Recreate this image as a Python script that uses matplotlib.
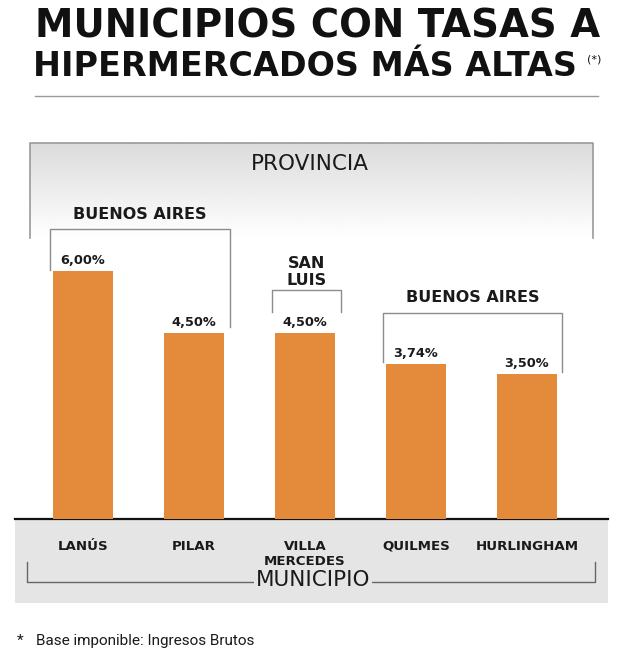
import matplotlib
matplotlib.use("Agg")
import matplotlib.pyplot as plt
import numpy as np
from matplotlib.patches import Rectangle

# ---------------------------------------------------------------------------
# Datos
# ---------------------------------------------------------------------------
municipios = ["LANÚS", "PILAR", "VILLA\nMERCEDES", "QUILMES", "HURLINGHAM"]
tasas = [6.00, 4.50, 4.50, 3.74, 3.50]
provincias = ["BUENOS AIRES", "SAN\nLUIS", "BUENOS AIRES"]
grupos = [(0, 1), (2, 2), (3, 4)]   # barras que abarca cada provincia

# ---------------------------------------------------------------------------
# Estilo
# ---------------------------------------------------------------------------
W, H = 624, 655
NARANJA = "#e38b3b"
GRIS_LINEA = "#8c8c8c"
GRIS_FONDO = "#e5e5e5"
TEXTO = "#1a1a1a"
FONT = "DejaVu Sans"


def caja(x0, y0, x1, y1):
    """Pixeles (origen arriba a la izquierda) -> rect de figura."""
    return [x0 / W, 1 - y1 / H, (x1 - x0) / W, (y1 - y0) / H]


fig = plt.figure(figsize=(W / 100, H / 100), dpi=100)

# capa de decoracion en pixeles
deco = fig.add_axes([0, 0, 1, 1], zorder=0)
deco.set_xlim(0, W)
deco.set_ylim(H, 0)
deco.axis("off")

# titulo
deco.text(318, 26, "MUNICIPIOS CON TASAS A", ha="center", va="center",
          fontsize=27.8, fontweight="bold", color="#111", family=FONT)
deco.text(305, 67, "HIPERMERCADOS MÁS ALTAS", ha="center", va="center",
          fontsize=24, fontweight="bold", color="#111", family=FONT)
deco.text(594, 60, "(*)", ha="center", va="center", fontsize=8, color="#111",
          family=FONT)
deco.plot([35, 598], [96, 96], color="#9a9a9a", lw=1)

# recuadro degradado "PROVINCIA"
grad = np.linspace(0.86, 1.0, 100).reshape(-1, 1)
deco.imshow(grad, cmap="gray", vmin=0, vmax=1, aspect="auto",
            extent=(30, 593, 238, 143), origin="upper", zorder=1)
deco.plot([30, 30, 593, 593], [238, 143, 143, 238], color="#9a9a9a", lw=1.2,
          zorder=2)
deco.text(310, 164, "PROVINCIA", ha="center", va="center", fontsize=15.5,
          color=TEXTO, family=FONT)

# franja inferior "MUNICIPIO"
deco.add_patch(Rectangle((15, 520), 593, 83, color=GRIS_FONDO, lw=0))
deco.plot([27, 27, 595, 595], [562, 582, 582, 562], color="#666", lw=1)
deco.text(313, 580, "MUNICIPIO", ha="center", va="center", fontsize=15.5,
          color=TEXTO, family=FONT,
          bbox=dict(facecolor=GRIS_FONDO, edgecolor="none", pad=1.5))

# nota al pie
deco.text(20, 641, "*", ha="center", va="center", fontsize=11, color=TEXTO,
          family="Roboto")
deco.text(36, 641, "Base imponible: Ingresos Brutos", ha="left", va="center",
          fontsize=11, color=TEXTO, family="Roboto")

# ---------------------------------------------------------------------------
# Barras
# ---------------------------------------------------------------------------
ax = fig.add_axes(caja(15, 143, 608, 519), zorder=2)
ax.set_facecolor("none")
x = np.arange(len(tasas))
ax.bar(x, tasas, width=0.54, color=NARANJA, zorder=3)
ax.set_xlim(-0.613, 4.73)
ax.set_ylim(0, 9.1)

for xi, v in zip(x, tasas):
    ax.text(xi, v + 0.17, f"{v:.2f}%".replace(".", ","), ha="center",
            va="baseline", fontsize=9.3, fontweight="bold", color=TEXTO,
            family=FONT)

# corchetes por provincia: (tope, fin izq, fin der, y etiqueta)
corchetes = [(7.02, 6.02, 4.65, 7.36), (5.54, 5.01, 5.01, 5.97),
             (4.98, 3.80, 3.56, 5.35)]
for (a, b), nombre, (tope, fi, fd, ye) in zip(grupos, provincias, corchetes):
    x0, x1 = a - 0.3, b + 0.32
    ax.plot([x0, x0, x1, x1], [fi, tope, tope, fd], color=GRIS_LINEA, lw=1,
            zorder=2)
    ax.text((x0 + x1) / 2, ye, nombre, ha="center", va="center",
            fontsize=11.5, fontweight="bold", color=TEXTO, family=FONT,
            linespacing=1.15)

for s in ["top", "left", "right"]:
    ax.spines[s].set_visible(False)
ax.spines["bottom"].set_color("#111")
ax.spines["bottom"].set_linewidth(1.6)
ax.set_yticks([])
ax.set_xticks(x, municipios)
ax.tick_params(axis="x", length=0, pad=15)
for lbl in ax.get_xticklabels():
    lbl.set_fontsize(9.6)
    lbl.set_fontweight("bold")
    lbl.set_color(TEXTO)
    lbl.set_family(FONT)
    lbl.set_linespacing(1.2)

fig.savefig("out.png", dpi=100, facecolor="white")
